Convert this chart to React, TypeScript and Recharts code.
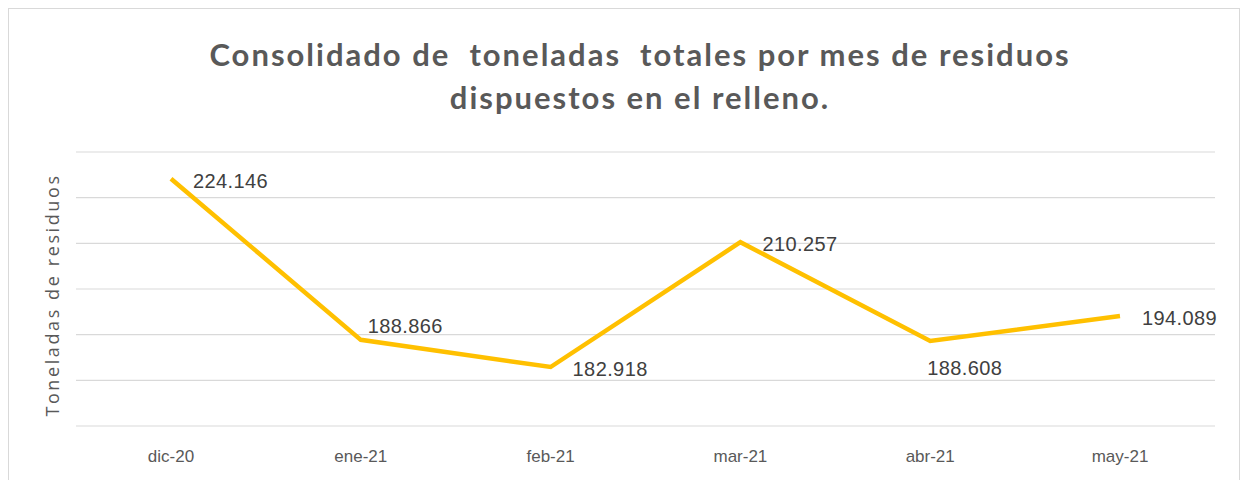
import { LineChart, Line, XAxis, YAxis, CartesianGrid, LabelList, Label } from "recharts";

const MONTHS = ["dic-20", "ene-21", "feb-21", "mar-21", "abr-21", "may-21"];
const TONS = [224.146, 188.866, 182.918, 210.257, 188.608, 194.089];
const Y_TICKS = [170, 180, 190, 200, 210, 220, 230];

// where each data label sits relative to its point
const LABEL_SPOT = ["right", "aboveRight", "right", "right", "below", "right"];

const TEXT = "#595959";

const data = MONTHS.map((m, i) => ({ month: m, tons: TONS[i] }));

const fmt = (v: number) => v.toFixed(3);

const DataLabel = (props: any) => {
  const { x, y, value, index } = props;
  const spot = LABEL_SPOT[index];
  let dx = 22;
  let dy = 2;
  if (spot === "aboveRight") {
    dx = 7;
    dy = -14;
  } else if (spot === "below") {
    dx = -3;
    dy = 27;
  }
  return (
    <text
      x={x + dx}
      y={y + dy}
      fill="#404040"
      fontSize={20}
      letterSpacing={0.4}
      fontFamily="'Liberation Sans', Arial, sans-serif"
      dominantBaseline="central"
    >
      {fmt(value)}
    </text>
  );
};

const YTitle = (props: any) => {
  const vb = props.viewBox || {};
  const cy = vb.y + vb.height / 2 + 6;
  const cx = 43;
  return (
    <text
      x={cx}
      y={cy}
      transform={`rotate(-90, ${cx}, ${cy})`}
      textAnchor="middle"
      dominantBaseline="central"
      fill={TEXT}
      fontSize={18}
      letterSpacing={2.6}
      fontFamily="'Open Sans', sans-serif"
    >
      Toneladas de residuos
    </text>
  );
};

export default function App() {
  return (
    <div
      style={{
        position: "absolute",
        left: 8,
        top: 8,
        width: 1232,
        height: 472,
        boxSizing: "border-box",
        border: "1px solid #d9d9d9",
        borderBottom: "none",
        background: "#fff",
      }}
    >
      <div
        style={{
          position: "absolute",
          left: 0,
          top: 24,
          width: 1262,
          textAlign: "center",
          fontFamily: "Lato, sans-serif",
          fontWeight: 700,
          fontSize: 31,
          letterSpacing: 2,
          lineHeight: "43px",
          color: TEXT,
        }}
      >
        Consolidado de&nbsp; toneladas&nbsp; totales por mes de residuos
        <br />
        dispuestos en el relleno.
      </div>
      <LineChart
        width={1230}
        height={471}
        data={data}
        margin={{ top: 143, right: 24, left: 0, bottom: 24 }}
      >
        <CartesianGrid vertical={false} stroke="#d9d9d9" strokeWidth={1.2} />
        <XAxis
          dataKey="month"
          axisLine={false}
          tickLine={false}
          tickSize={0}
          tickMargin={24}
          height={30}
          padding={{ left: 95, right: 95 }}
          tick={{ fill: TEXT, fontSize: 17, fontFamily: "'Liberation Sans', Arial, sans-serif" }}
        />
        <YAxis
          width={67}
          domain={[170, 230]}
          ticks={Y_TICKS}
          interval={0}
          tick={() => <g />}
          axisLine={false}
          tickLine={false}
        >
          <Label content={<YTitle />} />
        </YAxis>
        <Line
          type="linear"
          dataKey="tons"
          stroke="#FFC000"
          strokeWidth={4.5}
          dot={false}
          isAnimationActive={false}
        >
          <LabelList dataKey="tons" content={<DataLabel />} />
        </Line>
      </LineChart>
    </div>
  );
}
